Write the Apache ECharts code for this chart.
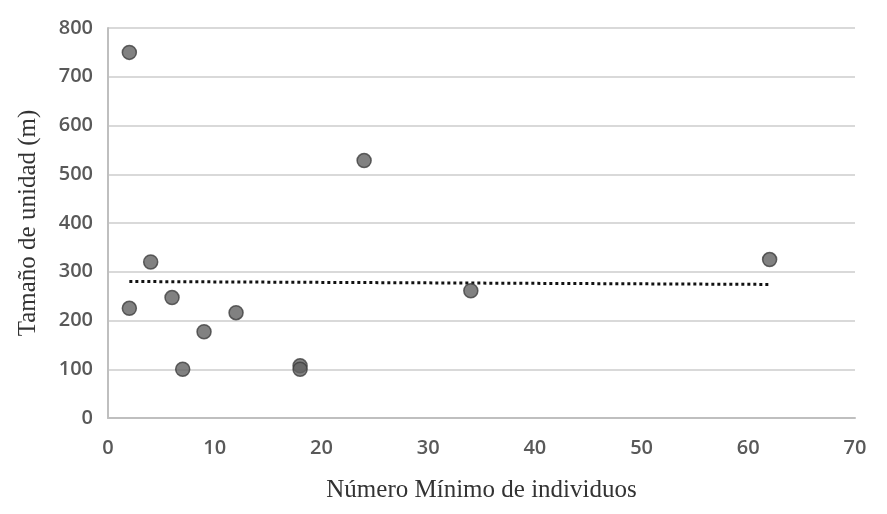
<!DOCTYPE html>
<html>
<head>
<meta charset="utf-8">
<script src="https://cdn.jsdelivr.net/npm/echarts@6/dist/echarts.min.js"></script>
<style>
  html, body { margin: 0; padding: 0; background: #fff; }
  #chart { width: 887px; height: 514px; }
</style>
</head>
<body>
<div id="chart"></div>
<script>
// Número mínimo de individuos vs tamaño de unidad (m)
const xValues = [2, 2, 4, 6, 7, 9, 12, 18, 18, 24, 34, 62];
const yValues = [750, 225, 320, 247, 100, 177, 216, 107, 100, 528, 261, 325];
// tendencia lineal (punteada), extremos
const trendX = [2, 62];
const trendY = [280, 274];

const points = xValues.map((x, i) => [x, yValues[i]]);
const trend = trendX.map((x, i) => [x, trendY[i]]);

const chart = echarts.init(document.getElementById("chart"));
const tickFont = {
  color: "#595959",
  fontSize: 20,
  fontFamily: "Open Sans",
  fontWeight: 600,
};
const titleFont = { color: "#333", fontSize: 25, fontFamily: "Liberation Serif" };
const option = {
  animation: false,
  backgroundColor: "#fff",
  grid: { left: 108, right: 32, top: 28, bottom: 96 },
  xAxis: {
    type: "value",
    min: 0,
    max: 70,
    interval: 10,
    name: "Número Mínimo de individuos",
    nameLocation: "middle",
    nameGap: 60,
    nameTextStyle: titleFont,
    axisLine: { lineStyle: { color: "#bfbfbf", width: 2 } },
    axisTick: { show: false },
    axisLabel: Object.assign({ margin: 20 }, tickFont),
    splitLine: { show: false },
  },
  yAxis: {
    type: "value",
    min: 0,
    max: 800,
    interval: 100,
    name: "Tamaño de unidad (m)",
    nameLocation: "middle",
    nameGap: 67,
    nameTextStyle: titleFont,
    axisLine: { show: true, lineStyle: { color: "#bfbfbf", width: 2 } },
    axisTick: { show: false },
    axisLabel: Object.assign({ margin: 15 }, tickFont),
    splitLine: { lineStyle: { color: "#d9d9d9", width: 2 } },
  },
  series: [
    {
      type: "line",
      data: trend,
      symbol: "none",
      lineStyle: { color: "#111", width: 3, type: [3, 3] },
      z: 1,
    },
    {
      type: "scatter",
      data: points,
      symbolSize: 14,
      itemStyle: { color: "#626262", borderColor: "#3f3f3f", borderWidth: 1.5 },
      z: 2,
    },
  ],
};
chart.setOption(option);
</script>
</body>
</html>
